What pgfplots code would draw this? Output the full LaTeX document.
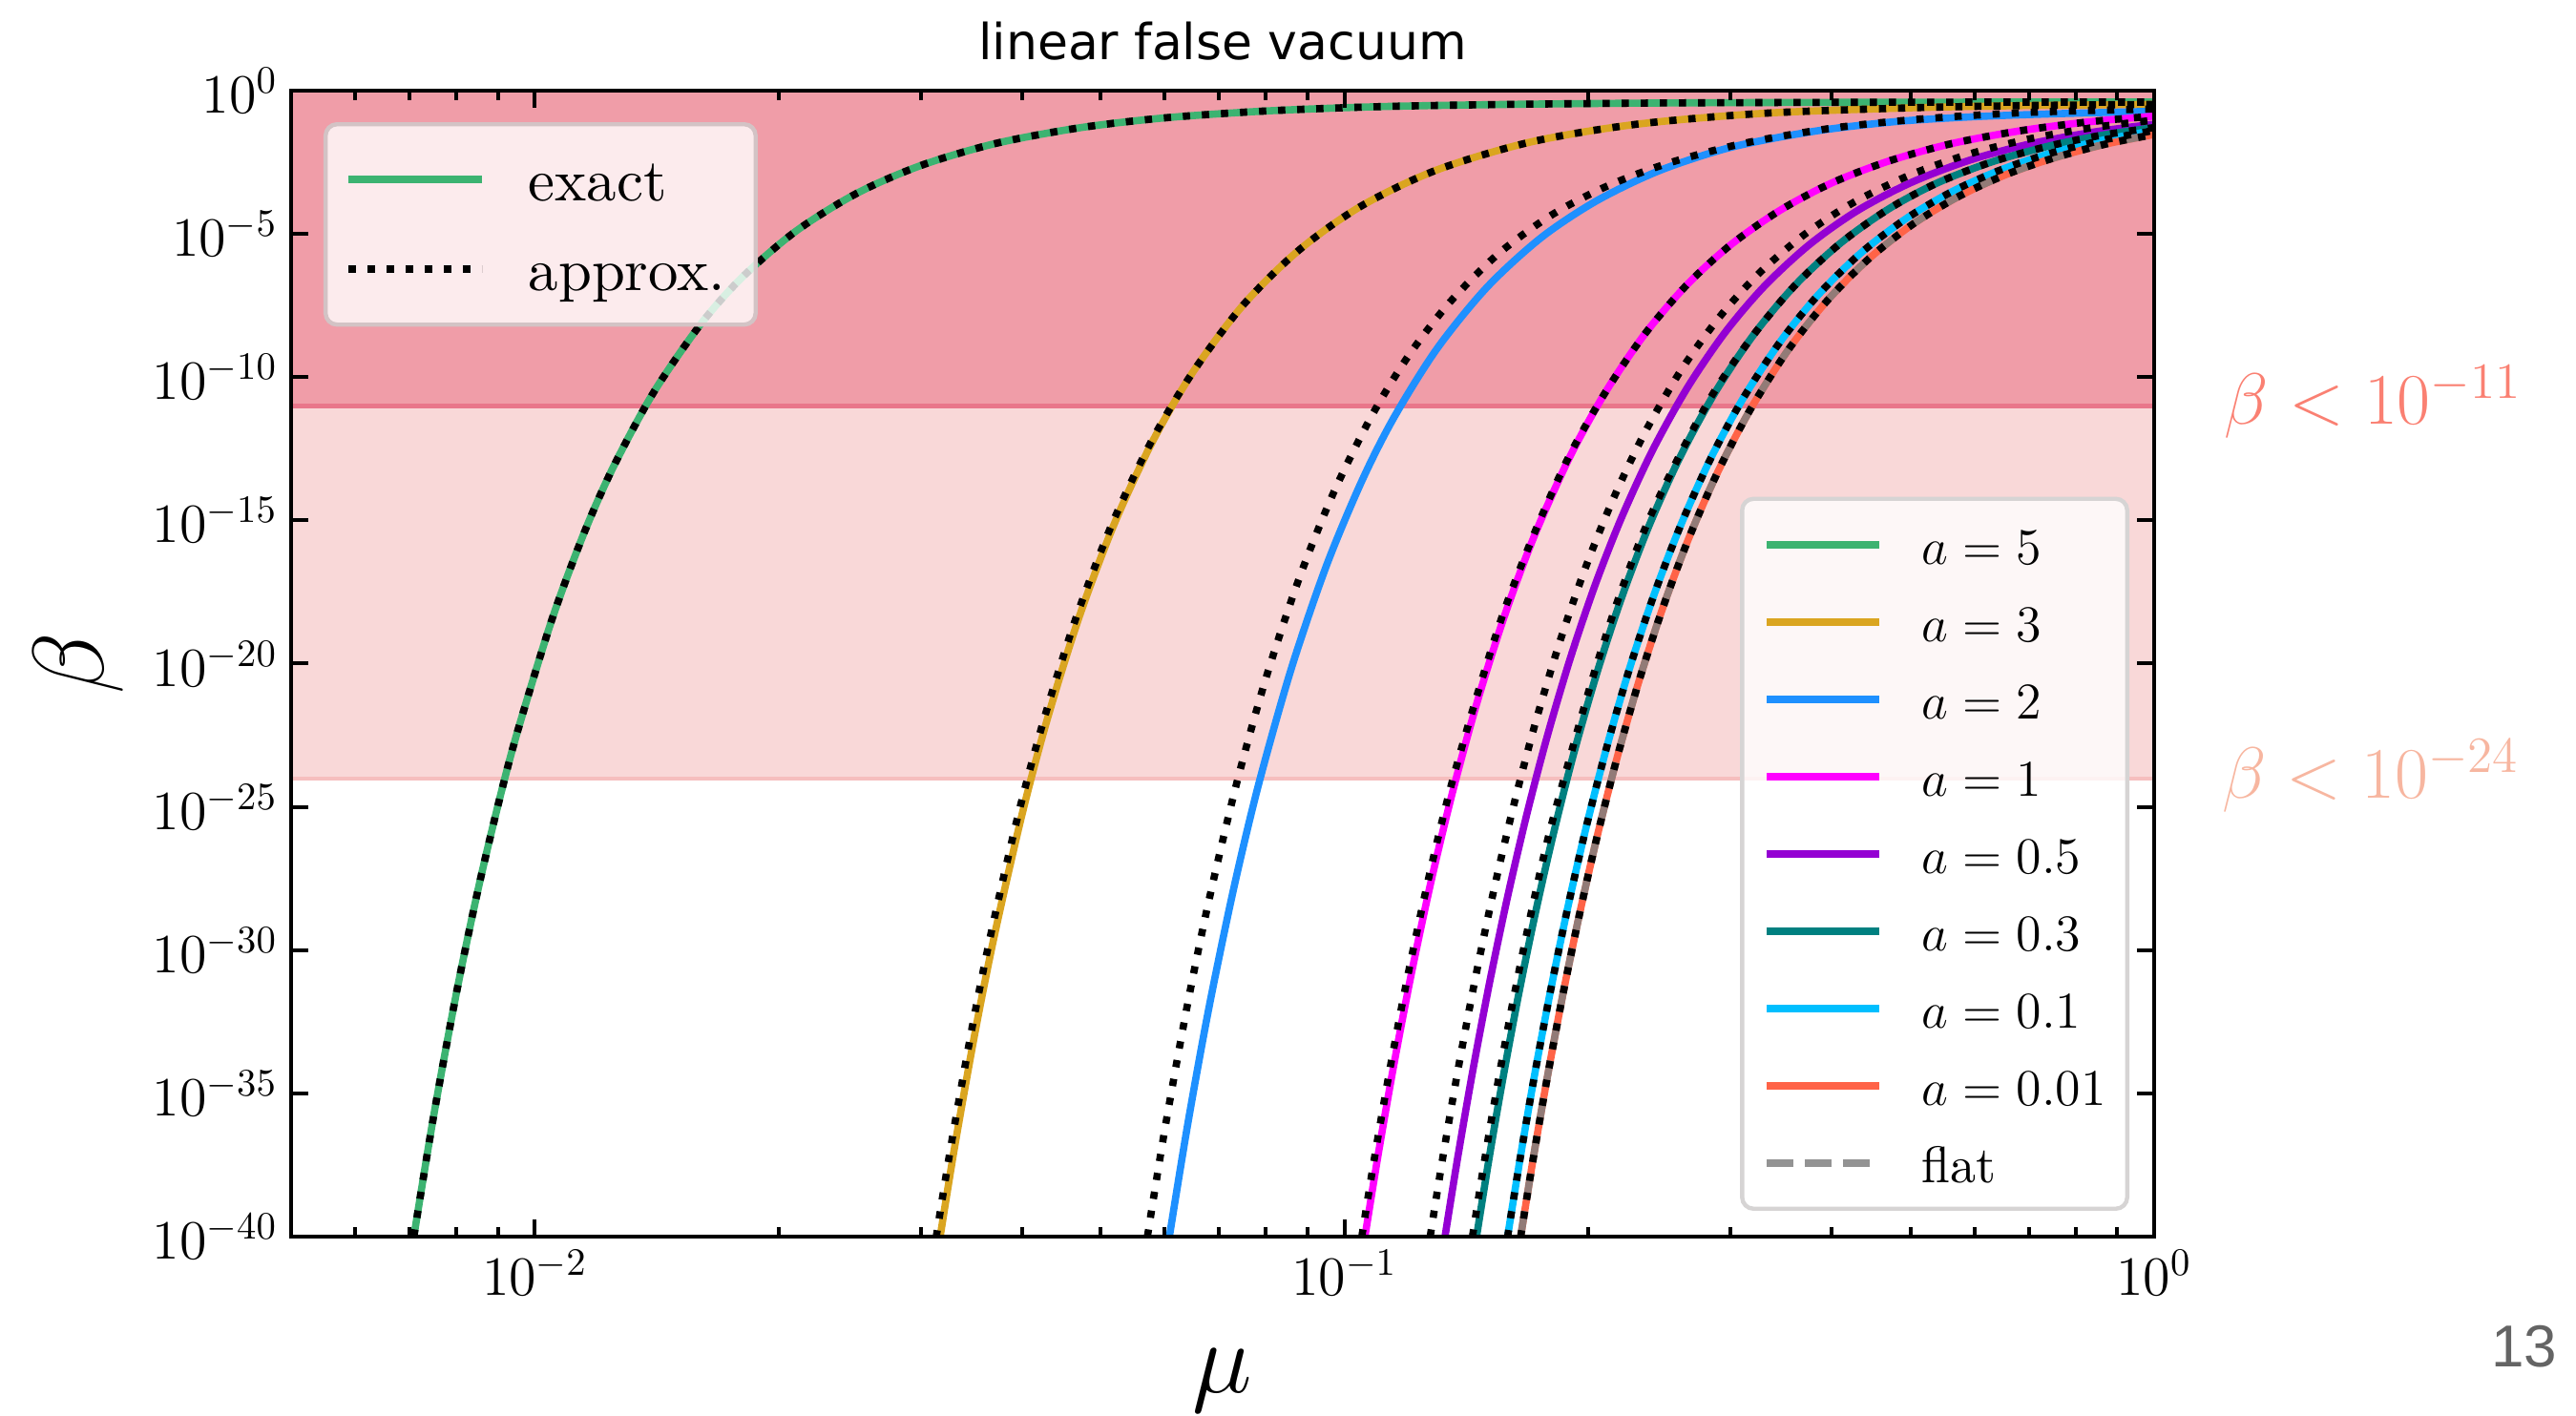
\RequirePackage{fix-cm}
\documentclass[border=0pt]{standalone}
\usepackage{fontspec}
\usepackage{pgfplots}
\usepackage{pgfplotstable}
\pgfplotsset{compat=1.18}
\newfontfamily\titlefont{DejaVu Sans}
\newfontfamily\pagefont{Liberation Sans}
\newfontfamily\lmten{lmroman10-regular}[Extension=.otf]

\definecolor{cgreen}{RGB}{60,179,113}
\definecolor{cgold}{RGB}{218,165,32}
\definecolor{cblue}{RGB}{30,144,255}
\definecolor{cmag}{RGB}{255,0,255}
\definecolor{cpurp}{RGB}{148,0,211}
\definecolor{cteal}{RGB}{0,128,128}
\definecolor{ccyan}{RGB}{0,191,255}
\definecolor{corange}{RGB}{255,99,71}
\definecolor{cgray}{RGB}{128,128,128}
\definecolor{banddark}{RGB}{240,157,168}
\definecolor{banddarkedge}{RGB}{233,118,138}
\definecolor{bandlight}{RGB}{249,216,216}
\definecolor{bandlightedge}{RGB}{246,190,190}
\definecolor{lgedgeA}{RGB}{211,195,197}
\definecolor{lgedgeB}{RGB}{214,212,212}
\definecolor{csalmon}{RGB}{250,128,114}
\definecolor{clsalmon}{RGB}{247,182,160}
\definecolor{pagegray}{RGB}{100,100,100}

% columns: mu, log10(beta)
\pgfplotstableread{
mu lb
0.00709 -40.0
0.0075 -35.80
0.008 -31.51
0.0085 -27.95
0.009 -24.98
0.0095 -22.46
0.0105 -18.46
0.0115 -15.45
0.0125 -13.14
0.014 -10.56
0.016 -8.18
0.018 -6.54
0.021 -4.91
0.025 -3.58
0.03 -2.61
0.037 -1.85
0.047 -1.30
0.06 -0.95
0.08 -0.71
0.11 -0.56
0.16 -0.48
0.25 -0.43
0.4 -0.41
0.65 -0.40
1.0 -0.40
}\tgreen
\pgfplotstableread{
mu lb
0.03166 -40.03
0.033 -36.88
0.035 -32.83
0.037 -29.42
0.04 -25.23
0.043 -21.89
0.047 -18.39
0.052 -15.10
0.058 -12.22
0.065 -9.82
0.075 -7.48
0.088 -5.55
0.105 -4.02
0.13 -2.77
0.17 -1.79
0.23 -1.17
0.33 -0.79
0.5 -0.60
0.7 -0.52
1.0 -0.48
}\tgold
\pgfplotstableread{
mu lb
0.03131 -40.03
0.03264 -36.88
0.03462 -32.83
0.03660 -29.42
0.03958 -25.23
0.04260 -21.89
0.04662 -18.39
0.05168 -15.10
0.05780 -12.22
0.065 -9.82
0.075 -7.48
0.088 -5.55
0.105 -4.02
0.13 -2.77
0.17 -1.79
0.23 -1.17
0.33 -0.79
0.5 -0.60
0.7 -0.52
1.0 -0.48
}\tgoldA
\pgfplotstableread{
mu lb
0.06076 -40.03
0.0640 -36.12
0.0680 -32.03
0.0730 -27.84
0.0784 -24.18
0.0860 -20.16
0.0950 -16.58
0.1050 -13.64
0.1150 -11.43
0.1300 -9.02
0.1500 -6.86
0.1750 -5.13
0.2050 -3.84
0.2450 -2.79
0.3000 -1.98
0.3800 -1.42
0.4800 -1.08
0.6000 -0.91
0.7500 -0.81
1.0 -0.72
}\tblue
\pgfplotstableread{
mu lb
0.0571 -40.0
0.060 -36.25
0.064 -31.89
0.068 -28.28
0.0735 -24.24
0.080 -20.50
0.088 -16.99
0.097 -14.02
0.108 -11.36
0.12 -9.25
0.135 -7.38
0.155 -5.69
0.18 -4.35
0.21 -3.36
0.25 -2.55
0.31 -1.85
0.4 -1.31
0.52 -0.98
0.7 -0.76
1.0 -0.64
}\tblueA
\pgfplotstableread{
mu lb
0.106 -40.0
0.110 -37.18
0.115 -34.05
0.121 -30.80
0.128 -27.57
0.136 -24.48
0.146 -21.30
0.158 -18.25
0.172 -15.47
0.19 -12.76
0.21 -10.53
0.235 -8.49
0.265 -6.77
0.3 -5.38
0.345 -4.18
0.4 -3.22
0.47 -2.46
0.56 -1.86
0.68 -1.41
0.83 -1.09
1.0 -0.89
}\tmag
\pgfplotstableread{
mu lb
0.10505 -40.0
0.10901 -37.18
0.11397 -34.05
0.11991 -30.80
0.12685 -27.57
0.13478 -24.48
0.14512 -21.30
0.15705 -18.25
0.17148 -15.47
0.18943 -12.76
0.21 -10.53
0.235 -8.49
0.265 -6.77
0.3 -5.38
0.345 -4.18
0.4 -3.22
0.47 -2.46
0.56 -1.86
0.68 -1.41
0.83 -1.09
1.0 -0.89
}\tmagA
\pgfplotstableread{
mu lb
0.1331 -40.0
0.138 -37.24
0.144 -34.23
0.151 -31.17
0.159 -28.15
0.168 -25.25
0.178 -22.54
0.19 -19.83
0.204 -17.25
0.22 -14.89
0.24 -12.57
0.265 -10.38
0.295 -8.45
0.33 -6.83
0.375 -5.38
0.43 -4.19
0.5 -3.22
0.59 -2.44
0.7 -1.87
0.84 -1.45
1.0 -1.17
}\tpurp
\pgfplotstableread{
mu lb
0.1276 -40.0
0.132 -37.39
0.138 -34.23
0.145 -31.02
0.153 -27.88
0.162 -24.89
0.172 -22.10
0.184 -19.34
0.198 -16.73
0.214 -14.35
0.234 -12.03
0.26 -9.79
0.29 -7.93
0.325 -6.38
0.37 -5.02
0.425 -3.91
0.5 -2.94
0.59 -2.22
0.7 -1.69
0.84 -1.29
1.0 -1.03
}\tpurpA
\pgfplotstableread{
mu lb
0.1456 -40.0
0.151 -37.21
0.157 -34.45
0.164 -31.59
0.172 -28.75
0.181 -25.99
0.192 -23.13
0.205 -20.33
0.22 -17.69
0.238 -15.16
0.26 -12.76
0.287 -10.53
0.32 -8.53
0.36 -6.80
0.41 -5.32
0.47 -4.13
0.54 -3.22
0.63 -2.49
0.74 -1.94
0.86 -1.56
1.0 -1.29
}\tteal
\pgfplotstableread{
mu lb
0.1439 -40.0
0.1492 -37.21
0.1551 -34.45
0.1620 -31.59
0.1699 -28.75
0.1788 -25.99
0.1905 -23.13
0.2034 -20.33
0.2182 -17.69
0.2361 -15.16
0.2590 -12.76
0.2859 -10.53
0.32 -8.53
0.36 -6.80
0.41 -5.32
0.47 -4.13
0.54 -3.22
0.63 -2.49
0.74 -1.94
0.86 -1.56
1.0 -1.29
}\ttealA
\pgfplotstableread{
mu lb
0.159 -40.02
0.165 -37.19
0.172 -34.25
0.18 -31.31
0.189 -28.43
0.199 -25.68
0.211 -22.88
0.225 -20.16
0.241 -17.62
0.26 -15.19
0.283 -12.87
0.31 -10.79
0.345 -8.78
0.385 -7.12
0.435 -5.65
0.495 -4.45
0.565 -3.50
0.65 -2.74
0.75 -2.16
0.87 -1.71
1.0 -1.39
}\tcyan
\pgfplotstableread{
mu lb
0.165 -40.03
0.171 -37.30
0.178 -34.46
0.186 -31.59
0.195 -28.78
0.205 -26.07
0.217 -23.31
0.231 -20.62
0.247 -18.09
0.266 -15.65
0.289 -13.32
0.317 -11.14
0.352 -9.11
0.393 -7.39
0.443 -5.90
0.503 -4.67
0.573 -3.70
0.655 -2.94
0.75 -2.36
0.87 -1.87
1.0 -1.53
}\torange

\pgfplotsset{
  exact/.style={line width=1.9pt, smooth, tension=0.5},
  approx/.style={black, line width=1.9pt, dash pattern=on 1.9pt off 3.1pt, smooth, tension=0.5, forget plot},
}

\begin{document}
\begin{tikzpicture}
\begin{axis}[
  at={(76.25pt,47pt)}, anchor=south west,
  scale only axis, width=488pt, height=300.25pt,
  xmode=log, xmin=0.005, xmax=1,
  ymin=-40, ymax=0,
  xtick={0.01,0.1,1},
  minor xtick={0.006,0.007,0.008,0.009,0.02,0.03,0.04,0.05,0.06,0.07,0.08,0.09,0.2,0.3,0.4,0.5,0.6,0.7,0.8,0.9},
  ytick={-40,-35,-30,-25,-20,-15,-10,-5,0},
  yticklabels={$10^{-40}$,$10^{-35}$,$10^{-30}$,$10^{-25}$,$10^{-20}$,$10^{-15}$,$10^{-10}$,$10^{-5}$,$10^{0}$},
  tick label style={font=\fontsize{14.5}{17}\selectfont},
  major tick length=4.5pt, minor tick length=2.5pt,
  tick style={black, line width=1pt},
  axis line style={black, line width=1pt},
  axis on top,
  title={linear false vacuum},
  title style={font=\titlefont\fontsize{13}{15}\selectfont, at={(axis description cs:0.5,1)}, anchor=base, yshift=2pt},
  xlabel={$\mu$}, ylabel={$\beta$},
  xlabel style={font=\fontsize{26.5}{30}\selectfont, at={(axis description cs:0.5,-0.13655)}, anchor=base},
  ylabel style={font=\fontsize{26.5}{30}\selectfont, at={(axis description cs:-0.10067,0.5)}, anchor=base},
  legend image code/.code={\draw[#1] (0pt,0pt) -- (29.5pt,0pt);},
  legend cell align=left,
  legend style={
    at={(0.98668,0.02248)}, anchor=south east,
    font=\lmten\fontsize{13.5}{16}\selectfont,
    draw=lgedgeB, line width=1.1pt, rounded corners=3pt,
    fill=white, fill opacity=0.8, text opacity=1,
    inner xsep=5.5pt, inner ysep=4.9pt,
    row sep=6.05pt, column sep=10.25pt,
    nodes={inner sep=0pt, text height=12.2pt, text depth=2pt},
  },
]
% bands
\addplot[draw=none, fill=bandlight, forget plot] coordinates {(0.005,-24) (1,-24) (1,-11) (0.005,-11)} -- cycle;
\addplot[draw=none, fill=banddark, forget plot] coordinates {(0.005,-11) (1,-11) (1,0) (0.005,0)} -- cycle;
\addplot[bandlightedge, line width=1pt, forget plot] coordinates {(0.005,-24) (1,-24)};
\addplot[banddarkedge, line width=1.25pt, forget plot] coordinates {(0.005,-11) (1,-11)};
% exact
\addplot[exact, cgreen] table[x=mu, y=lb] {\tgreen};
\addlegendentry{$a=5$}
\addplot[exact, cgold] table[x=mu, y=lb] {\tgold};
\addlegendentry{$a=3$}
\addplot[exact, cblue] table[x=mu, y=lb] {\tblue};
\addlegendentry{$a=2$}
\addplot[exact, cmag] table[x=mu, y=lb] {\tmag};
\addlegendentry{$a=1$}
\addplot[exact, cpurp] table[x=mu, y=lb] {\tpurp};
\addlegendentry{$a=0.5$}
\addplot[exact, cteal] table[x=mu, y=lb] {\tteal};
\addlegendentry{$a=0.3$}
\addplot[exact, ccyan] table[x=mu, y=lb] {\tcyan};
\addlegendentry{$a=0.1$}
\addplot[exact, corange] table[x=mu, y=lb] {\torange};
\addlegendentry{$a=0.01$}
\addplot[cgray, opacity=0.85, line width=1.9pt, dash pattern=on 7pt off 3pt, smooth, tension=0.5] table[x=mu, y=lb] {\torange};
\addlegendentry{flat}
% approximations
\addplot[approx] table[x=mu, y=lb] {\tgreen};
\addplot[approx] table[x=mu, y=lb] {\tgoldA};
\addplot[approx] table[x=mu, y=lb] {\tblueA};
\addplot[approx] table[x=mu, y=lb] {\tmagA};
\addplot[approx] table[x=mu, y=lb] {\tpurpA};
\addplot[approx] table[x=mu, y=lb] {\ttealA};
\addplot[approx] table[x=mu, y=lb] {\tcyan};
\addplot[approx] table[x=mu, y=lb] {\torange};
\end{axis}

\begin{axis}[
  at={(76.25pt,47pt)}, anchor=south west,
  scale only axis, width=488pt, height=300.25pt,
  hide axis, xmode=log, xmin=0.005, xmax=1, ymin=-40, ymax=0,
  legend image code/.code={\draw[#1] (0pt,0pt) -- (35pt,0pt);},
  legend cell align=left,
  legend style={
    at={(0.0174,0.9725)}, anchor=north west,
    font=\lmten\fontsize{15.7}{19}\selectfont,
    draw=lgedgeA, line width=1.1pt, rounded corners=3pt,
    fill=white, fill opacity=0.8, text opacity=1,
    inner xsep=5pt, inner ysep=6.5pt,
    row sep=7.5pt, column sep=11.25pt,
    nodes={inner sep=0pt, text height=13.5pt, text depth=2.5pt, text width=54.5pt},
  },
]
\addlegendimage{cgreen, line width=1.9pt}
\addlegendentry{exact}
\addlegendimage{black, line width=1.9pt, dash pattern=on 1.9pt off 3.1pt}
\addlegendentry{approx.}
\end{axis}

\node[anchor=base west, inner sep=0pt, text=csalmon, font=\fontsize{19}{22}\selectfont] at (582.5pt,259.75pt) {$\beta < 10^{-11}$};
\node[anchor=base west, inner sep=0pt, text=clsalmon, font=\fontsize{19}{22}\selectfont] at (581.9pt,161.75pt) {$\beta < 10^{-24}$};
\node[anchor=base east, inner sep=0pt, text=pagegray, font=\pagefont\fontsize{15.5}{18}\selectfont] at (670pt,12.75pt) {13};
\pgfresetboundingbox
\useasboundingbox (0,0) rectangle (674.75pt,371pt);
\end{tikzpicture}
\end{document}
